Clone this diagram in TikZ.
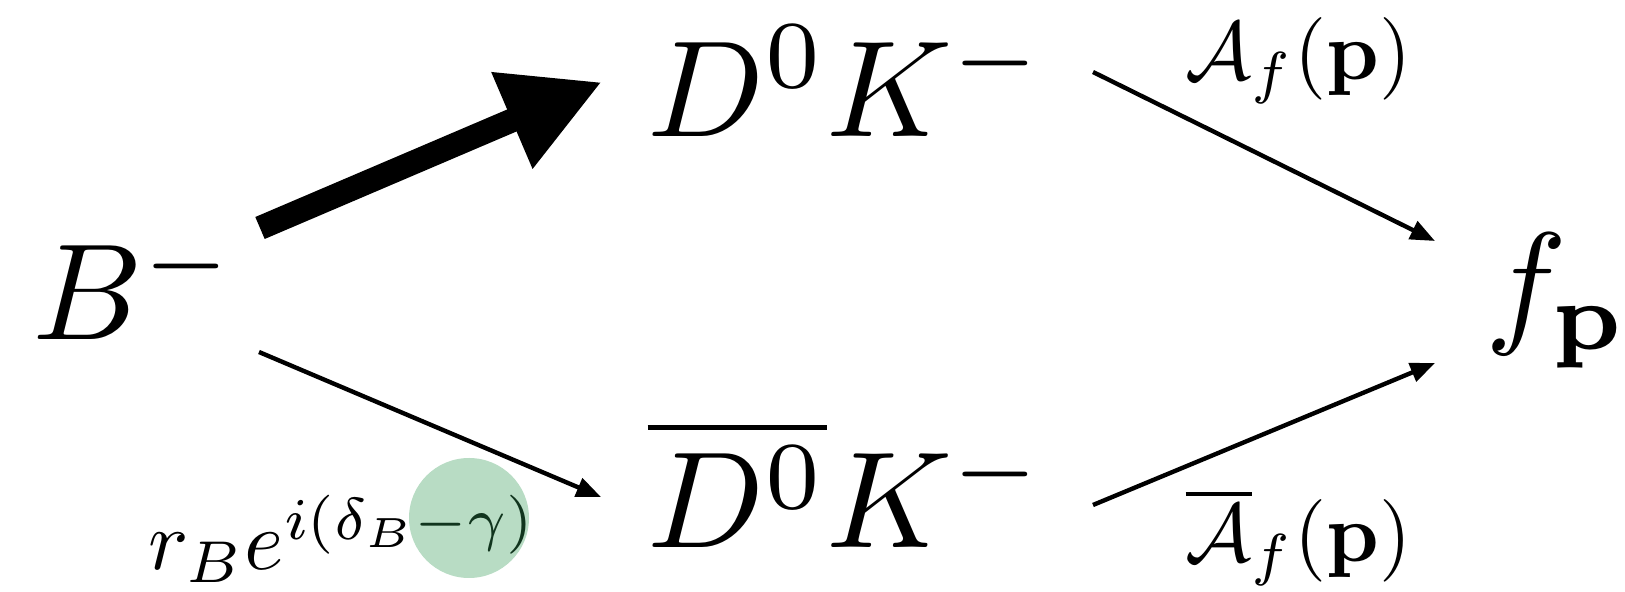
\documentclass[tikz,border=0pt]{standalone}
\usepackage{amsmath,amssymb}
\usepackage{xcolor}
\usepackage{tikz}
\usetikzlibrary{arrows.meta,calc}

\definecolor{hlgreen}{RGB}{51,154,86}

\begin{document}
\begin{tikzpicture}[
    every node/.style={inner sep=0pt, anchor=base west},
    state/.style={scale=3.9},
    amp/.style={scale=2.35},
    phase/.style={scale=2.4},
    decay/.style={-{Triangle[length=7pt,width=5.5pt]}, line width=1.25pt},
    favoured/.style={-{Triangle[length=0.98cm,width=0.98cm]}, line width=6.8pt}]
  \useasboundingbox (0,0) rectangle (16.25,5.92);
  % states
  \node[state] (Bm) at (0.30,2.52) {$B^-$};
  \node[state] (DK) at (6.45,4.55) {$D^0K^-$};
  \node[state] (DbarK) at (6.45,0.44) {$\overline{D^0}K^-$};
  \node[state] (fp) at (14.83,2.63) {$f_{\mathbf{p}}$};
  % amplitudes
  \node[amp] (Aup) at (11.84,5.12) {$\mathcal{A}_f(\mathbf{p})$};
  \node[amp] (Adown) at (11.84,0.30) {$\overline{\mathcal{A}}_f(\mathbf{p})$};
  \node[phase] (rB) at (1.47,0.22) {$r_Be^{i(\delta_B-\gamma)}$};
  % the two paths
  \draw[favoured] ($(Bm.base west)+(2.30,1.12)$) -- ($(DK.base west)+(-0.43,0.55)$);
  \draw[decay] ($(Bm.base west)+(2.29,-0.12)$) -- ($(DbarK.base west)+(-0.44,0.51)$);
  \draw[decay] ($(DK.base west)+(4.48,0.65)$) -- ($(fp.base west)+(-0.48,0.88)$);
  \draw[decay] ($(DbarK.base west)+(4.48,0.43)$) -- ($(fp.base west)+(-0.48,-0.34)$);
  % highlight on the weak phase
  \fill[hlgreen, fill opacity=0.35] (4.69,0.74) circle (0.60);
\end{tikzpicture}
\end{document}
